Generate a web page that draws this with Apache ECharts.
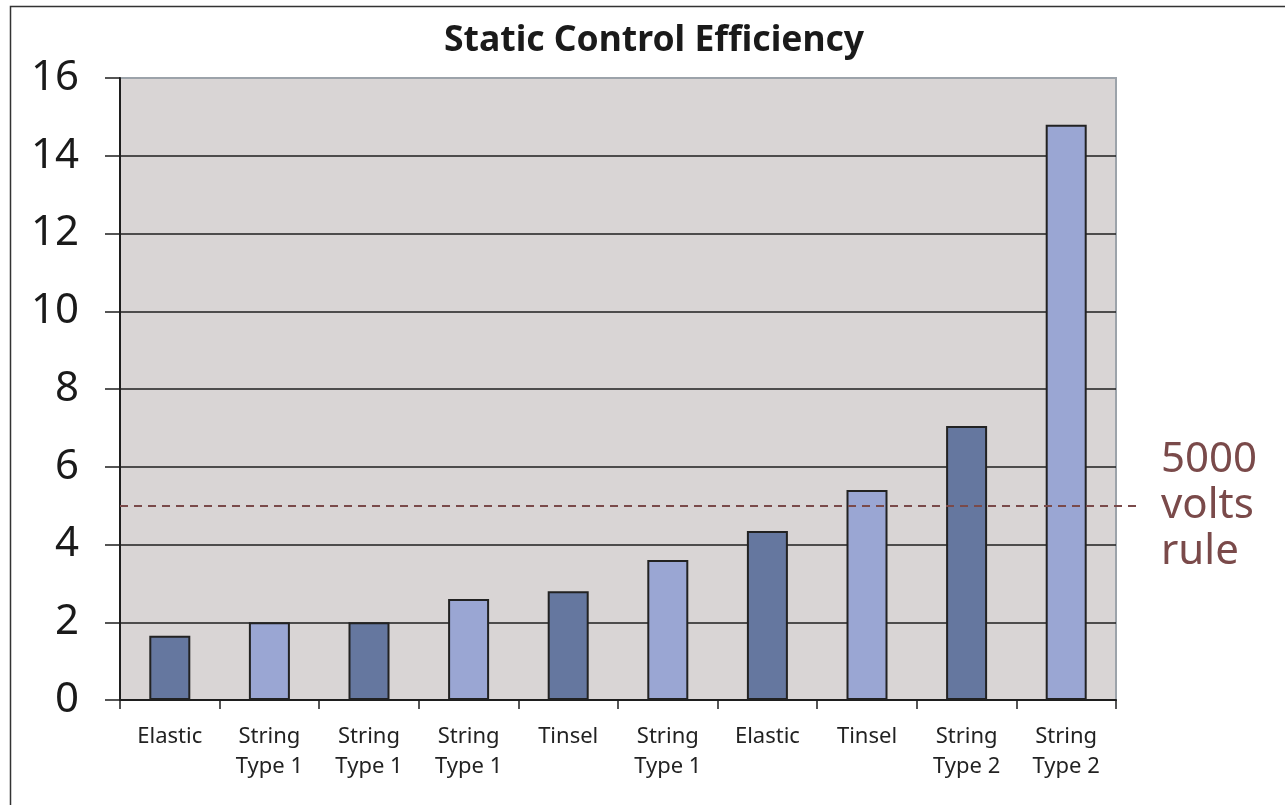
<!DOCTYPE html>
<html>
<head>
<meta charset="utf-8">
<script src="https://cdn.jsdelivr.net/npm/echarts@6/dist/echarts.min.js"></script>
<style>
html,body{margin:0;padding:0;background:#fff;}
#chart{width:1285px;height:805px;}
</style>
</head>
<body>
<div id="chart"></div>
<script>
const categories = ['Elastic', 'String\nType 1', 'String\nType 1', 'String\nType 1', 'Tinsel', 'String\nType 1', 'Elastic', 'Tinsel', 'String\nType 2', 'String\nType 2'];
const values = [1.65, 2.0, 2.0, 2.6, 2.8, 3.6, 4.35, 5.4, 7.05, 14.8];
const yTicks = [0, 2, 4, 6, 8, 10, 12, 14, 16];
const ruleValue = 5;
const ruleLabel = '5000\nvolts\nrule';
const titleText = 'Static Control Efficiency';

const palette = ['#65779f', '#9aa6d3'];

const chart = echarts.init(document.getElementById('chart'));
const splitColors = yTicks.map((t, i) => i === yTicks.length - 1 ? '#9ca3aa' : '#1e1e1e');

chart.setOption({
  animation: false,
  backgroundColor: '#ffffff',
  graphic: [{
    type: 'rect',
    silent: true,
    z: -10,
    shape: { x: 10.5, y: 6.5, width: 1400, height: 1000 },
    style: { fill: 'none', stroke: '#333333', lineWidth: 1.5 }
  }],
  title: {
    text: titleText,
    left: 439,
    top: 18,
    textStyle: {
      fontFamily: "'Noto Sans', sans-serif",
      fontSize: 35.5,
      fontWeight: 'bold',
      color: '#1a1a1a'
    }
  },
  grid: [
    { left: 120, right: 169, top: 78, bottom: 105, show: true, backgroundColor: '#d9d5d5', borderColor: '#9ca3aa', borderWidth: 2 },
    { left: 120, right: 147, top: 78, bottom: 105, show: false }
  ],
  xAxis: [
    {
      type: 'category',
      gridIndex: 0,
      data: categories,
      boundaryGap: true,
      axisLine: { show: true, lineStyle: { color: '#1e1e1e', width: 2 } },
      axisTick: { show: true, length: 9, lineStyle: { color: '#1e1e1e', width: 1.5 } },
      axisLabel: {
        interval: 0,
        margin: 22,
        fontFamily: "'Noto Sans', sans-serif",
        fontSize: 22,
        lineHeight: 30,
        color: '#222222'
      },
      splitLine: { show: false }
    },
    { type: 'value', gridIndex: 1, min: 0, max: 1, show: false }
  ],
  yAxis: [
    {
      type: 'value',
      gridIndex: 0,
      min: 0,
      max: 16,
      interval: 2,
      axisLine: { show: true, lineStyle: { color: '#1e1e1e', width: 2 } },
      axisTick: { show: true, length: 15, lineStyle: { color: '#1e1e1e', width: 1.5 } },
      axisLabel: {
        margin: 41,
        fontFamily: "'Noto Sans', sans-serif",
        fontSize: 42,
        color: '#1a1a1a'
      },
      splitLine: { show: true, lineStyle: { color: splitColors, width: 1.6 } }
    },
    { type: 'value', gridIndex: 1, min: 0, max: 16, show: false }
  ],
  series: [
    {
      type: 'bar',
      xAxisIndex: 0,
      yAxisIndex: 0,
      barWidth: 41,
      data: values.map((v, i) => ({
        value: v,
        itemStyle: { color: palette[i % 2] }
      })),
      itemStyle: { borderColor: '#222222', borderWidth: 2 },
      z: 3
    },
    {
      type: 'line',
      xAxisIndex: 1,
      yAxisIndex: 1,
      data: [],
      z: 4,
      markLine: {
        silent: true,
        symbol: ['none', 'none'],
        lineStyle: { color: '#7a4a4a', type: [8, 6], width: 2 },
        label: {
          show: true,
          position: 'end',
          distance: 23,
          formatter: ruleLabel,
          fontFamily: "'Noto Sans', sans-serif",
          fontSize: 42,
          lineHeight: 46,
          color: '#7a4a4a'
        },
        data: [{ yAxis: ruleValue }]
      }
    }
  ]
});
</script>
</body>
</html>
